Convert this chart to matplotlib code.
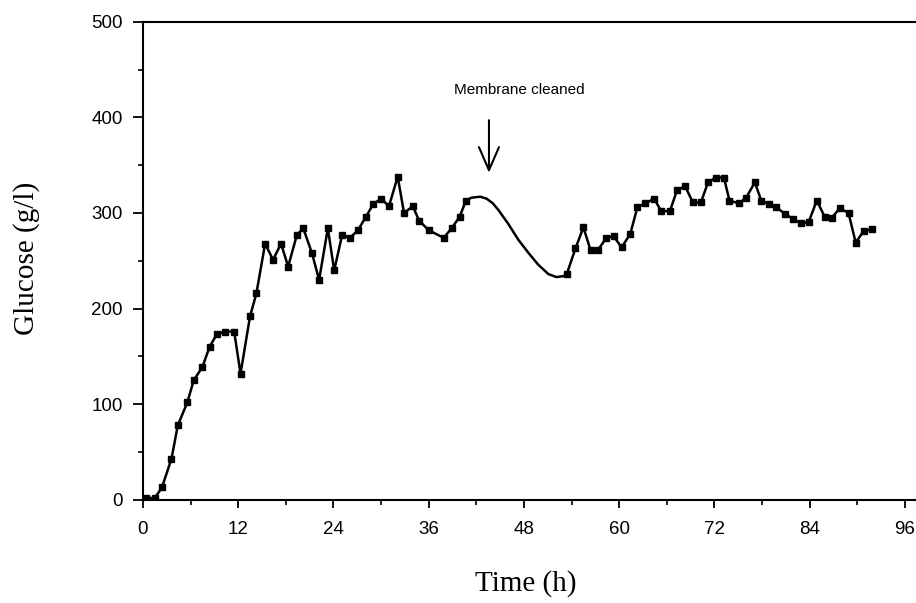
import numpy as np
import matplotlib.pyplot as plt
from matplotlib.ticker import MultipleLocator

# measured glucose, before the membrane was cleaned
t_before = [0.4, 1.5, 2.4, 3.6, 4.4, 5.6, 6.4, 7.5, 8.4, 9.3, 10.3, 11.5, 12.3,
            13.5, 14.3, 15.4, 16.4, 17.4, 18.3, 19.4, 20.2, 21.3, 22.2, 23.3,
            24.1, 25.1, 26.1, 27.1, 28.1, 29.0, 30.0, 31.0, 32.1, 32.9, 34.0,
            34.8, 36.0, 37.9, 38.9, 39.9, 40.7]
g_before = [2, 2, 13, 43, 78, 102, 125, 139, 160, 173, 176, 176, 132,
            192, 216, 268, 251, 268, 244, 277, 284, 258, 230, 284,
            240, 277, 274, 282, 296, 309, 315, 307, 338, 300, 307,
            292, 282, 274, 284, 296, 313]

# hand-drawn curve across the cleaning period (no samples)
t_gap = [40.7, 41.4, 42.5, 43.3, 44.1, 44.8, 46.0, 47.3, 48.6, 49.8, 51.1, 52.1, 53.0, 53.4]
g_gap = [313, 316, 317, 315, 310, 303, 289, 272, 258, 246, 236, 233, 234, 236]

# measured glucose, after cleaning
t_after = [53.4, 54.5, 55.5, 56.4, 57.3, 58.4, 59.3, 60.3, 61.4, 62.3, 63.3, 64.4,
           65.3, 66.4, 67.3, 68.3, 69.3, 70.3, 71.2, 72.2, 73.2, 73.9, 75.1,
           76.0, 77.1, 77.9, 78.9, 79.8, 80.9, 81.9, 82.9, 83.9, 84.9, 85.9,
           86.8, 87.8, 88.9, 89.8, 90.8, 91.8]
g_after = [236, 263, 285, 261, 261, 274, 276, 264, 278, 306, 310, 315,
           302, 302, 324, 328, 311, 311, 332, 337, 337, 313, 310,
           316, 332, 313, 309, 306, 299, 294, 289, 291, 313, 296,
           295, 305, 300, 269, 281, 283]

x_ticks = [0, 12, 24, 36, 48, 60, 72, 84, 96]
y_ticks = [0, 100, 200, 300, 400, 500]

fig = plt.figure(figsize=(9.16, 6.03), dpi=100)
ax = fig.add_axes([0.156, 0.171, 0.844, 0.793])

ax.plot(t_before, g_before, color="black", lw=1.8, marker="s", ms=5)
ax.plot(t_gap, g_gap, color="black", lw=1.8)
ax.plot(t_after, g_after, color="black", lw=1.8, marker="s", ms=5)

ax.annotate("", xy=(43.6, 342), xytext=(43.6, 397),
            arrowprops=dict(arrowstyle="->, head_length=0.83, head_width=0.36",
                            color="black", lw=1.5, mutation_scale=20,
                            shrinkA=0, shrinkB=0))
ax.text(47.4, 429, "Membrane cleaned", ha="center", va="center",
        fontsize=11, family="Liberation Sans")

ax.set_xlim(0, 97.4)
ax.set_ylim(0, 500)
ax.set_xticks(x_ticks)
ax.set_yticks(y_ticks)
ax.xaxis.set_minor_locator(MultipleLocator(6))
ax.yaxis.set_minor_locator(MultipleLocator(50))
ax.tick_params(axis="x", which="major", direction="out", length=6, width=1.3,
               labelsize=13.5, pad=9)
ax.tick_params(axis="y", which="major", direction="out", length=7.5, width=1.3,
               labelsize=13.5, pad=7)
ax.tick_params(which="minor", direction="out", length=3.5, width=1.2)
for lab in ax.get_xticklabels() + ax.get_yticklabels():
    lab.set_family("Liberation Sans")

ax.spines["right"].set_visible(False)
for s in ["left", "bottom", "top"]:
    ax.spines[s].set_linewidth(1.5)

ax.set_xlabel("Time (h)", family="Liberation Serif", fontsize=21, va="center")
ax.xaxis.set_label_coords(0.495, -0.174)
ax.set_ylabel("Glucose (g/l)", family="Liberation Serif", fontsize=21, va="center")
ax.yaxis.set_label_coords(-0.150, 0.506)

fig.savefig("out.png", dpi=100)
